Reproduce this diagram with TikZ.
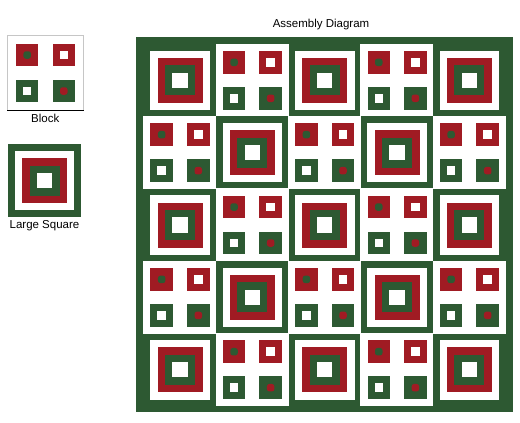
\documentclass[tikz,border=0pt]{standalone}
\usepackage{fontspec}
\setmainfont{Liberation Sans}
\usetikzlibrary{positioning}

\definecolor{quiltgreen}{RGB}{45,89,50}
\definecolor{quiltred}{RGB}{160,27,35}

\tikzset{
	sq/.style={rectangle, minimum size=#1, inner sep=0pt, outer sep=0pt, draw=none},
	dot/.style={sq=7.5bp, rounded corners=2.5bp},
	caption/.style={font=\fontsize{11.5bp}{13bp}\selectfont, inner sep=0pt}
}

% large square centred at #1
\newcommand{\largesquare}[1]{%
	\node[sq=72.4bp, fill=quiltgreen] at (#1) {};
	\node[sq=59.6bp, fill=white] at (#1) {};
	\node[sq=45bp, fill=quiltred] at (#1) {};
	\node[sq=30bp, fill=quiltgreen] at (#1) {};
	\node[sq=15.5bp, fill=white] at (#1) {};
}

% four small squares of a block centred at #1
\newcommand{\quiltblock}[1]{%
	\begin{scope}[shift={(#1)}]
		\node[sq=22.5bp, fill=quiltred] at (-18.3,-18) {};
		\node[dot, fill=quiltgreen] at (-18.3,-18) {};
		\node[sq=22.5bp, fill=quiltred] at (18.3,-18) {};
		\node[sq=8.5bp, fill=white] at (18.3,-18) {};
		\node[sq=22.5bp, fill=quiltgreen] at (-18.3,18) {};
		\node[sq=8.5bp, fill=white] at (-18.3,18) {};
		\node[sq=22.5bp, fill=quiltgreen] at (18.3,18) {};
		\node[dot, fill=quiltred] at (18.3,18) {};
	\end{scope}
}

\begin{document}
\begin{tikzpicture}[x=1bp, y=-1bp]
	\useasboundingbox (0,0) rectangle (520,422);

	% block
	\node[rectangle, minimum width=76bp, minimum height=75bp, inner sep=0pt, draw=gray!45, fill=white] (blockicon) at (45.3,72.5) {};
	\draw[line width=1bp] (blockicon.south west) -- (blockicon.south east);
	\quiltblock{45.5,73}
	\node[caption, below=3.5bp of blockicon] (blocklabel) {Block};

	% large square
	\node[sq=72.4bp] (squareicon) at (44.5,180.5) {};
	\largesquare{44.5,180.5}
	\node[caption, below=3.4bp of squareicon] (squarelabel) {Large Square};

	% assembly
	\node[rectangle, minimum width=376.5bp, minimum height=375bp, inner sep=0pt, fill=quiltgreen] (quilt) at (324.3,224.2) {};
	\node[caption] (title) at (321,25) {Assembly Diagram};
	\foreach \row in {0,...,4}
		\foreach \col in {0,...,4} {
			\pgfmathtruncatemacro{\parity}{mod(\row+\col,2)}
			\pgfmathsetmacro{\cx}{180+72.35*\col}
			\pgfmathsetmacro{\cy}{80.3+72.35*\row}
			\ifnum\parity=0
				\largesquare{\cx,\cy}
			\else
				\node[sq=73.5bp, fill=white] at (\cx,\cy) {};
				\quiltblock{\cx,\cy}
			\fi
		}
\end{tikzpicture}
\end{document}
